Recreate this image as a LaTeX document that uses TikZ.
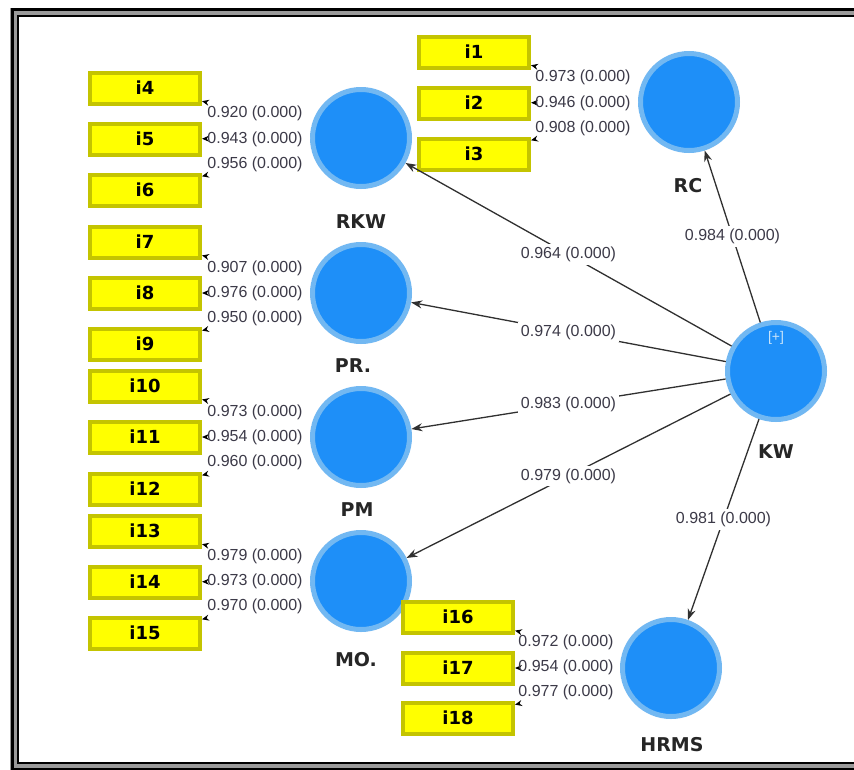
\documentclass[tikz,border=0pt]{standalone}
\usepackage{fontspec}
\setmainfont{Liberation Sans}
\newfontfamily\lblfont{DejaVu Sans}
\usetikzlibrary{arrows.meta}
\definecolor{plsblue}{HTML}{1E8FF8}
\definecolor{plsring}{HTML}{72B8F2}
\definecolor{itemfill}{HTML}{FFFF00}
\definecolor{itemedge}{HTML}{C4C400}
\definecolor{pathgray}{HTML}{303030}
\definecolor{numgray}{HTML}{3C3A48}
\definecolor{framegray}{HTML}{9A9A9A}

\begin{document}
\begin{tikzpicture}[x=1pt, y=-1pt,
  construct/.style={circle, fill=plsblue, draw=plsring, line width=5pt,
    minimum size=97pt, inner sep=0pt},
  item/.style={rectangle, fill=itemfill, draw=itemedge, line width=4pt,
    minimum width=110pt, minimum height=31pt, inner sep=0pt,
    font=\lblfont\bfseries\fontsize{18}{18}\selectfont},
  cname/.style={font=\lblfont\bfseries\fontsize{19}{19}\selectfont, text=black!85},
  loading/.style={draw=white, line width=1pt,
    -{Stealth[length=7pt, width=6pt, color=black]}},
  structural/.style={draw=pathgray, line width=1.3pt,
    -{Stealth[length=11pt, width=8pt]}},
  loadnum/.style={font=\fontsize{16}{16}\selectfont, text=numgray, inner sep=0pt},
  pathnum/.style={font=\fontsize{16}{16}\selectfont, text=numgray,
    fill=white, inner sep=3pt}]

\useasboundingbox (0,0) rectangle (854,769);
\fill[white] (0,0) rectangle (854,769);

% Frame (double rule, runs off on the right)
\draw[framegray, line width=9pt] (14.5,12) rectangle (866,766);
\draw[black, line width=3pt] (12,9) rectangle (869,769);
\draw[black, line width=2pt] (18,16) rectangle (862,763);

% --- Latent variables
\node[construct] (RKW) at (361,138) {};
\node[construct] (PR) at (361,293) {};
\node[construct] (PM) at (361,437) {};
\node[construct] (MO) at (361,581) {};
\node[construct] (RC) at (689,102) {};
\node[construct] (KW) at (776,371) {};
\node[construct] (HRMS) at (671,668) {};
\node[text=plsring!40!white, font=\fontsize{14}{14}\selectfont] (KWplus) at (776,338) {[+]};

% names under the circles
\node[cname] (RKWname) at (361,222) {RKW};
\node[cname] (PRname) at (353,366) {PR.};
\node[cname] (PMname) at (357,510) {PM};
\node[cname] (MOname) at (356,660) {MO.};
\node[cname] (RCname) at (688,186) {RC};
\node[cname] (KWname) at (776,452) {KW};
\node[cname] (HRMSname) at (672,745) {HRMS};

% --- Indicators
\foreach \n/\y in {4/88,5/139,6/190,7/242,8/293,9/344,10/386,11/437,12/489,13/531,14/582,15/633}
  \node[item] (i\n) at (145,\y) {i\n};
\foreach \n/\y in {1/52,2/103,3/154}
  \node[item] (i\n) at (474,\y) {i\n};
\foreach \n/\y in {16/617,17/668,18/718}
  \node[item] (i\n) at (458,\y) {i\n};

% --- Outer loadings (only the tips show)
\foreach \c/\a/\b/\d in {RKW/4/5/6, PR/7/8/9, PM/10/11/12, MO/13/14/15, RC/1/2/3, HRMS/16/17/18}
  \foreach \k in {\a,\b,\d}
    \draw[loading] (\c) -- (i\k);

\foreach \x/\y/\v [count=\j] in {
    255/113/0.920, 255/139/0.943, 255/164/0.956,
    255/268/0.907, 255/293/0.976, 255/318/0.950,
    255/412/0.973, 255/437/0.954, 255/462/0.960,
    255/556/0.979, 255/581/0.973, 255/606/0.970,
    583/77/0.973, 583/103/0.946, 583/128/0.908,
    566/642/0.972, 566/667/0.954, 566/692/0.977}
  \node[loadnum] (w\j) at (\x,\y) {\v{} (0.000)};

% --- Inner model
\draw[structural] (KW) -- node[pathnum] (p1) {0.964 (0.000)} (RKW);
\draw[structural] (KW) -- node[pathnum] (p2) {0.974 (0.000)} (PR);
\draw[structural] (KW) -- node[pathnum] (p3) {0.983 (0.000)} (PM);
\draw[structural] (KW) -- node[pathnum] (p4) {0.979 (0.000)} (MO);
\draw[structural] (KW) -- node[pathnum] (p5) {0.984 (0.000)} (RC);
\draw[structural] (KW) -- node[pathnum] (p6) {0.981 (0.000)} (HRMS);

\end{tikzpicture}
\end{document}
